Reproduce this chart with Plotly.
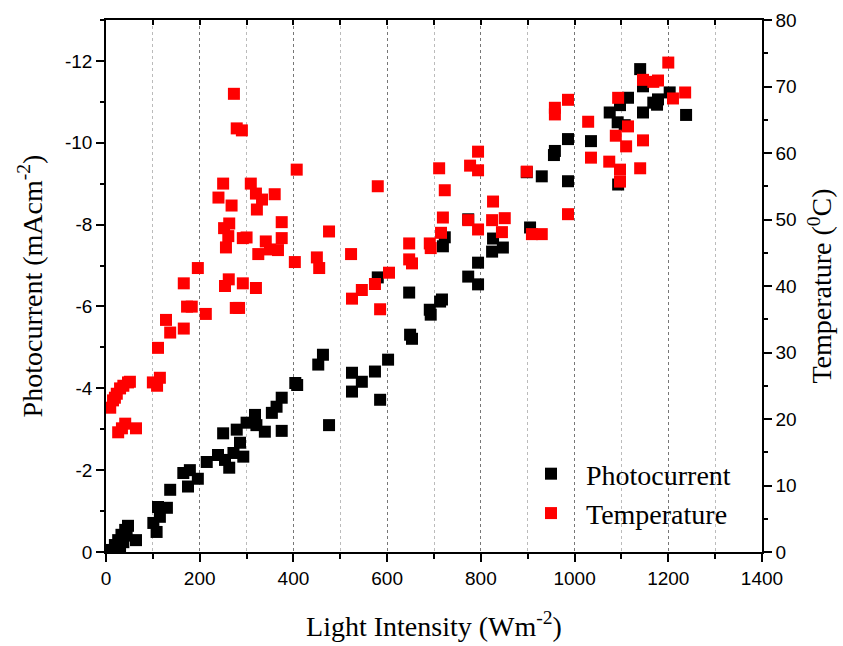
import plotly.graph_objects as go

# Light intensity (W/m^2) and photocurrent (mA/cm^2) readings
pc_intensity = [12, 19, 22, 26, 30, 33, 37, 41, 44, 47, 64,
                101, 108, 111, 115, 130, 137, 165, 175, 179, 196, 215, 239, 250, 254, 263,
                272, 279, 286, 293, 300, 318, 321, 339, 354, 364, 375, 375, 404, 408,
                453, 463, 476, 525, 525, 546, 574, 580, 585, 602, 647, 649, 653, 691, 693,
                713, 717, 719, 723, 773, 773, 794, 794, 824, 826, 847, 898, 905, 930, 956,
                958, 986, 986, 1035, 1075, 1092, 1093, 1097, 1107, 1114, 1140, 1146, 1146,
                1168, 1176, 1178, 1203, 1238]
photocurrent = [-0.05, -0.17, -0.10, -0.29, -0.05, -0.42, -0.24, -0.54, -0.40, -0.64, -0.29,
                -0.71, -0.49, -1.10, -0.86, -1.08, -1.52, -1.93, -1.60, -2.00, -1.79, -2.20, -2.37, -2.90, -2.25, -2.06,
                -2.42, -2.99, -2.67, -2.33, -3.16, -3.35, -3.10, -2.94, -3.40, -3.55, -3.77, -2.96, -4.13, -4.08,
                -4.58, -4.82, -3.10, -4.38, -3.92, -4.16, -4.41, -6.71, -3.72, -4.70, -6.34, -5.31, -5.21, -5.92, -5.80,
                -6.12, -6.17, -7.47, -7.69, -8.13, -6.73, -7.07, -6.54, -7.34, -7.66, -7.44, -9.28, -7.93, -9.18, -9.70,
                -9.80, -9.06, -10.09, -10.04, -10.74, -10.50, -8.98, -10.92, -10.43, -11.10, -11.80, -11.38, -10.74,
                -10.98, -10.93, -11.06, -11.23, -10.68]

# Light intensity (W/m^2) and module temperature (deg C) readings
temp_intensity = [9, 15, 19, 23, 30, 37, 47, 51, 26, 34, 41, 64,
                  100, 109, 115, 111, 128, 137, 166, 166, 173, 183, 196, 213,
                  240, 250, 252, 254, 256, 261, 262, 263, 268, 273, 277, 279, 284, 290,
                  292, 292, 300, 309, 320, 320, 322, 325, 333, 341, 350, 360, 367, 375, 375,
                  403, 407, 450, 455, 476, 523, 525, 546, 574, 580, 585, 604,
                  647, 647, 653, 691, 693, 711, 715, 719, 723, 777, 794, 794, 773, 794,
                  826, 824, 851, 845, 898, 909, 930, 986, 958, 958, 986, 1029, 1035,
                  1074, 1088, 1093, 1110, 1114, 1097, 1097, 1140, 1146, 1146, 1168, 1178,
                  1200, 1210, 1236]
temperature = [21.7, 22.8, 23.2, 23.8, 24.6, 25.0, 25.5, 25.6, 18.0, 18.6, 19.3, 18.6,
               25.5, 25.0, 26.2, 30.7, 34.9, 33.0, 33.6, 40.4, 36.9, 36.9, 42.7, 35.8,
               53.3, 55.4, 48.7, 40.0, 45.8, 47.5, 41.0, 49.4, 52.1, 68.9, 36.7, 63.7, 36.7, 63.4,
               40.4, 47.2, 47.3, 55.4, 53.9, 39.7, 51.5, 44.8, 53.0, 46.7, 45.5, 53.8, 45.4, 49.6, 47.2,
               43.6, 57.5, 44.3, 42.7, 48.2, 44.8, 38.1, 39.4, 40.3, 55.0, 36.5, 42.0,
               46.4, 44.0, 43.4, 46.4, 45.7, 57.7, 48.0, 50.3, 54.4, 58.1, 60.2, 57.4, 49.9, 48.5,
               52.7, 49.9, 50.2, 48.1, 57.2, 47.8, 47.8, 50.8, 66.8, 65.8, 68.0, 64.7, 59.3,
               58.7, 62.6, 68.3, 61.0, 64.0, 57.5, 55.7, 57.7, 61.9, 71.0, 70.7, 70.9,
               73.6, 68.2, 69.1]

# Axis tick labels
pc_tickvals = [0, -2, -4, -6, -8, -10, -12]
pc_ticktext = ["0", "-2", "-4", "-6", "-8", "-10", "-12"]

SERIF = "Liberation Serif, Times New Roman, serif"
SANS = "Liberation Sans, Arial, sans-serif"

fig = go.Figure()

fig.add_trace(go.Scatter(
    x=pc_intensity, y=photocurrent, mode="markers", name="Photocurrent",
    marker=dict(symbol="square", size=12, color="#000000"),
    xaxis="x", yaxis="y",
))
fig.add_trace(go.Scatter(
    x=temp_intensity, y=temperature, mode="markers", name="Temperature",
    marker=dict(symbol="square", size=12, color="#ff0000"),
    xaxis="x", yaxis="y2",
))
# carrier for the top frame axis
fig.add_trace(go.Scatter(x=[None], y=[None], xaxis="x2", yaxis="y",
                         showlegend=False, hoverinfo="skip"))

fig.update_layout(
    width=843, height=646,
    margin=dict(l=106, r=81, t=20, b=94, autoexpand=False),
    paper_bgcolor="white", plot_bgcolor="white",
    font=dict(family=SANS, size=19, color="black"),
    xaxis=dict(
        range=[0, 1400], tick0=0, dtick=200, automargin=False,
        ticks="outside", ticklen=8, tickwidth=1.5, tickcolor="black",
        showline=True, linecolor="black", linewidth=1.5,
        showgrid=True, gridcolor="#777777", griddash="dot", gridwidth=1,
        zeroline=False,
        minor=dict(dtick=100, ticks="outside", ticklen=5, tickcolor="black",
                   showgrid=True, gridcolor="#bbbbbb", griddash="dot", gridwidth=1),
        tickfont=dict(family=SANS, size=19),
        title=dict(text="Light Intensity (Wm<sup>-2</sup>)",
                   font=dict(family=SERIF, size=28), standoff=29),
    ),
    xaxis2=dict(
        range=[0, 1400], overlaying="x", side="top", anchor="y", automargin=False,
        tick0=0, dtick=100, ticks="inside", ticklen=5, tickwidth=1.5, tickcolor="black",
        showticklabels=False, showline=True, linecolor="black", linewidth=1.5,
        showgrid=False, zeroline=False,
    ),
    yaxis=dict(
        range=[0, -13], tickvals=pc_tickvals, ticktext=pc_ticktext, automargin=False,
        ticks="outside", ticklen=8, tickwidth=1.5, tickcolor="black",
        showline=True, linecolor="black", linewidth=1.5,
        showgrid=False, zeroline=False,
        minor=dict(dtick=1, ticks="outside", ticklen=4, tickcolor="black"),
        tickfont=dict(family=SANS, size=19),
        title=dict(text="Photocurrent (mAcm<sup>-2</sup>)",
                   font=dict(family=SERIF, size=28), standoff=14),
    ),
    yaxis2=dict(
        range=[0, 80], overlaying="y", side="right", anchor="x", automargin=False,
        tick0=0, dtick=10,
        ticks="outside", ticklen=8, tickwidth=1.5, tickcolor="black",
        showline=True, linecolor="black", linewidth=1.5,
        showgrid=False, zeroline=False,
        minor=dict(dtick=5, ticks="outside", ticklen=4, tickcolor="black"),
        tickfont=dict(family=SANS, size=19),
        title=dict(text="Temperature (<sup>0</sup>C)",
                   font=dict(family=SERIF, size=28), standoff=16),
    ),
    legend=dict(
        x=0.625, y=0.11, xanchor="left", yanchor="middle",
        bgcolor="rgba(255,255,255,0)",
        font=dict(family=SERIF, size=28),
        itemwidth=60, tracegroupgap=0,
    ),
    showlegend=True,
)

fig.write_html("out.html")
